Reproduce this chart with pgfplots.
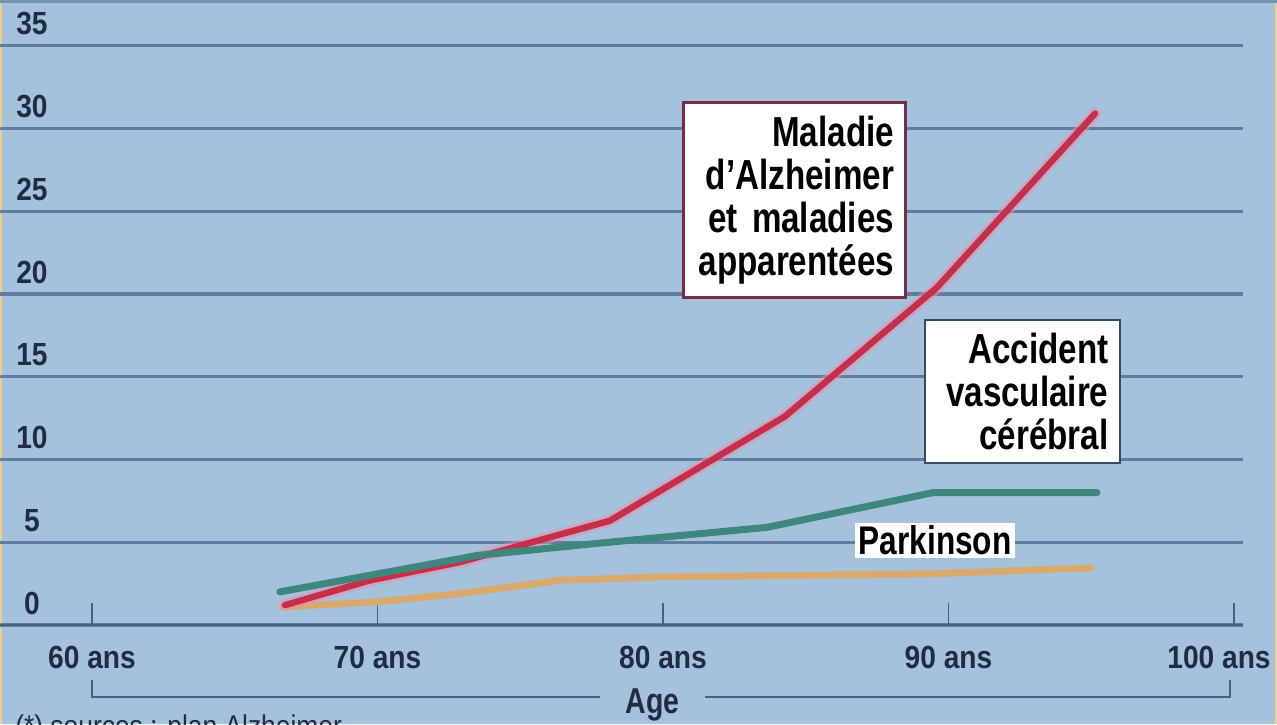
\documentclass[border=0pt]{standalone}
\usepackage{pgfplots}
\pgfplotsset{compat=1.18}
\usepackage{fontspec}
\setmainfont{Liberation Sans}
\newfontfamily\boxfont[FakeStretch=0.79]{Liberation Sans}
\newfontfamily\tickfont[FakeStretch=0.88]{Liberation Sans}
\definecolor{bg}{RGB}{165,194,220}
\definecolor{gridc}{RGB}{95,125,158}
\definecolor{axisc}{RGB}{70,98,128}
\definecolor{tickc}{RGB}{30,45,68}
\definecolor{alz}{RGB}{196,48,74}
\definecolor{alzhalo}{RGB}{240,140,170}
\definecolor{avc}{RGB}{62,135,125}
\definecolor{park}{RGB}{216,170,110}
\definecolor{edge}{RGB}{242,204,140}
\definecolor{boxred}{RGB}{120,45,70}
\definecolor{boxblue}{RGB}{55,75,100}
\begin{document}
\begin{tikzpicture}
\fill[bg] (0,0) rectangle (638.5pt,362pt);
\fill[edge] (0,0) rectangle (1.2pt,362pt);
\fill[edge] (637.3pt,0) rectangle (638.5pt,362pt);
\fill[gridc!70!bg] (0,360.5pt) rectangle (638.5pt,362pt);
\begin{axis}[
  at={(0pt,49.5pt)}, anchor=south west,
  scale only axis, width=621.5pt, height=312.5pt,
  xmin=56.778, xmax=100.315, ymin=0, ymax=37.764,
  clip=false,
  axis x line*=bottom, axis y line*=left,
  y axis line style={draw=none},
  x axis line style={draw=axisc, line width=1.2pt},
  xtick={60,70,80,90,100},
  xticklabels={60 ans,70 ans,80 ans,90 ans,\hspace*{-15pt}100 ans},
  ytick={0,5,...,35},
  tick align=inside,
  major tick length=11pt,
  xtick style={draw=axisc, line width=0.6pt},
  ytick style={draw=none},
  ymajorgrids,
  grid style={draw=gridc, line width=1.6pt},
  ticklabel style={font=\tickfont\bfseries\fontsize{16}{16}\selectfont, text=tickc},
  /pgf/number format/assume math mode=true,
  xticklabel style={anchor=center, yshift=-16pt},
  yticklabel style={anchor=center, xshift=16pt, yshift=11pt},
]
\addplot[park, line width=3.5pt, line join=round, line cap=round] coordinates {(66.7,1.1)(70.0,1.4)(72.9,1.9)(76.4,2.7)(79.9,2.9)(89.5,3.1)(95.0,3.45)};
\addplot[alzhalo, opacity=0.5, line width=6pt, line join=round, line cap=round] coordinates {(66.76,1.2)(69.74,2.7)(72.89,3.8)(78.14,6.3)(84.27,12.6)(89.6,20.4)(95.13,30.9)};
\addplot[alz, line width=3.2pt, line join=round, line cap=round] coordinates {(66.76,1.2)(69.74,2.7)(72.89,3.8)(78.14,6.3)(84.27,12.6)(89.6,20.4)(95.13,30.9)};
\addplot[avc, line width=3.5pt, line join=round, line cap=round] coordinates {(66.58,2.0)(73.49,4.2)(77.79,4.95)(83.64,5.9)(89.46,8.0)(95.2,8.0)};
\node[draw=boxred, line width=1.5pt, fill=white, text width=100pt, inner xsep=5.5pt, minimum height=97.5pt, align=right, font=\boxfont\bfseries\fontsize{21}{21.5}\selectfont] at (axis cs:84.59,25.65) {Maladie\\d’Alzheimer\\et maladies\\apparentées};
\node[draw=boxblue, line width=1.2pt, fill=white, text width=86pt, inner xsep=5.75pt, minimum height=71.5pt, align=right, font=\boxfont\bfseries\fontsize{21}{21.5}\selectfont] at (axis cs:92.59,14.11) {Accident\\vasculaire\\cérébral};
\node[fill=white, inner xsep=1.8pt, inner ysep=1pt, minimum height=17.5pt, font=\boxfont\bfseries\fontsize{20}{20}\selectfont] at (axis cs:89.53,5.11) {Parkinson};
\draw[axisc, line width=1.3pt] (axis cs:60,-3.3) -- (axis cs:60,-4.35) -- (axis cs:77.79,-4.35);
\draw[axisc, line width=1.3pt] (axis cs:81.47,-4.35) -- (axis cs:99.86,-4.35) -- (axis cs:99.86,-3.3);
\node[font=\boxfont\bfseries\fontsize{18}{18}\selectfont, text=tickc] at (axis cs:79.63,-4.83) {Age};
\node[anchor=north west, inner sep=0pt, font=\tickfont\fontsize{15}{15}\selectfont, text=tickc] at (axis cs:57.3,-5.4) {(*) sources : plan Alzheimer};
\end{axis}
\pgfresetboundingbox
\path[use as bounding box] (0,0) rectangle (638.5pt,362pt);
\end{tikzpicture}
\end{document}
